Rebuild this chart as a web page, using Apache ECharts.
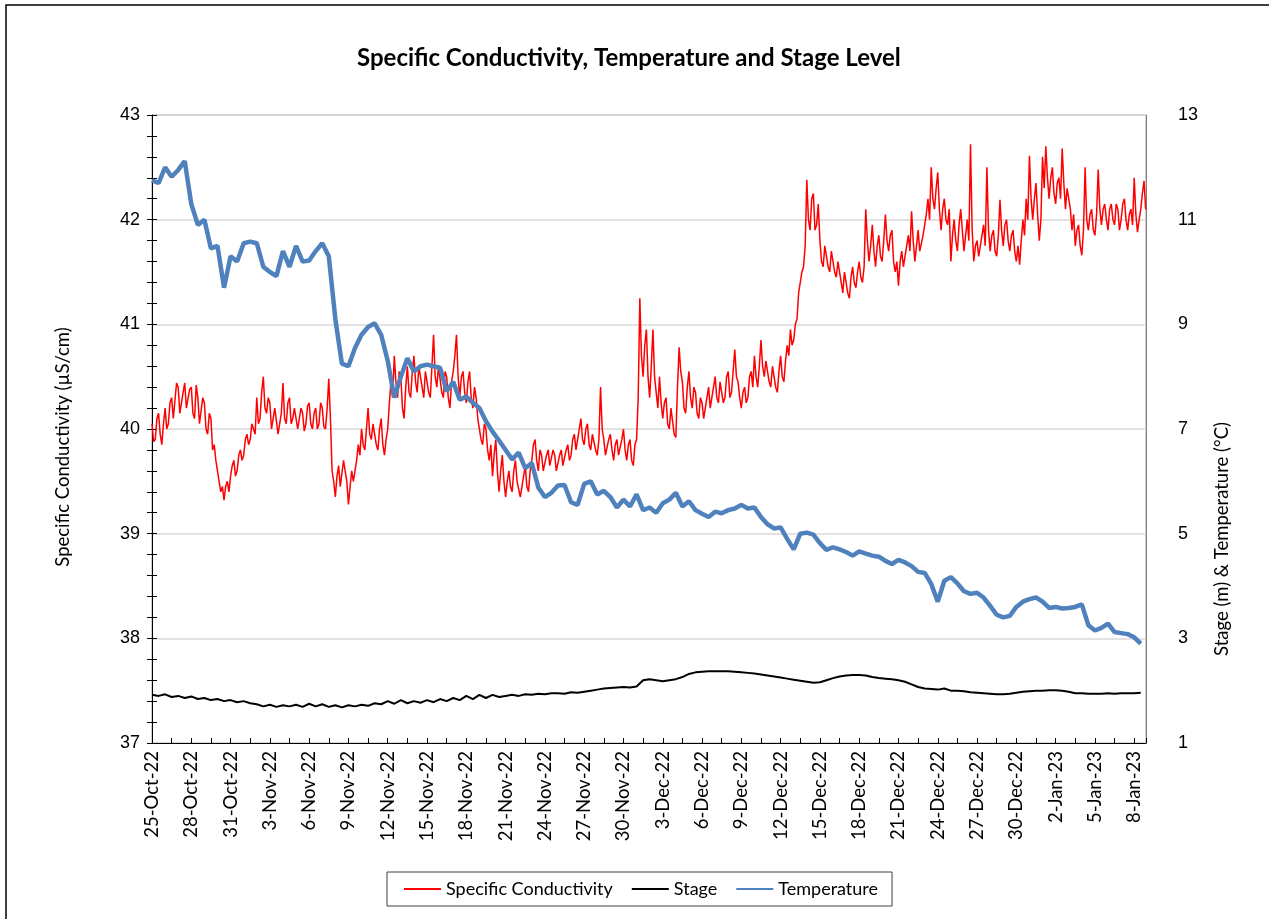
<!DOCTYPE html>
<html>
<head>
<meta charset="UTF-8">
<title>Specific Conductivity, Temperature and Stage Level</title>
<style>
  html, body { margin: 0; padding: 0; background: #fff; }
  #chart { width: 1269px; height: 919px; }
</style>
<script src="https://cdn.jsdelivr.net/npm/echarts@6/dist/echarts.min.js"></script>
</head>
<body>
<div id="chart"></div>
<script>
// days counted from 25-Oct-22 00:00
var startDate = Date.UTC(2022, 9, 25);
var months = ['Jan', 'Feb', 'Mar', 'Apr', 'May', 'Jun', 'Jul', 'Aug', 'Sep', 'Oct', 'Nov', 'Dec'];

// specific conductivity (uS/cm), 8 readings a day (one row = one day)
var condStep = 0.125;
var conductivity = [
  40.05, 39.88, 39.9, 40.1, 40.15, 39.95, 39.85, 40.05,
  40.2, 40.0, 40.05, 40.25, 40.3, 40.1, 40.1, 40.44,
  40.4, 40.15, 40.15, 40.35, 40.44, 40.2, 40.2, 40.38,
  40.4, 40.15, 40.1, 40.42, 40.3, 40.05, 40.05, 40.3,
  40.25, 40.0, 39.95, 40.15, 40.1, 39.8, 39.85, 39.7,
  39.6, 39.5, 39.4, 39.45, 39.32, 39.45, 39.5, 39.4,
  39.55, 39.65, 39.7, 39.55, 39.6, 39.75, 39.8, 39.7,
  39.75, 39.9, 39.95, 39.85, 39.9, 40.05, 40.05, 39.95,
  40.3, 40.05, 40.1, 40.35, 40.5, 40.2, 40.15, 40.3,
  40.25, 40.0, 40.0, 40.2, 40.2, 39.95, 39.95, 40.15,
  40.44, 40.1, 40.05, 40.25, 40.3, 40.05, 40.1, 40.2,
  40.2, 40.0, 40.0, 40.2, 40.15, 39.98, 40.05, 40.22,
  40.25, 40.05, 40.0, 40.15, 40.2, 40.0, 40.05, 40.25,
  40.2, 40.02, 40.0, 40.2, 40.48, 40.1, 39.6, 39.5,
  39.35, 39.55, 39.65, 39.45, 39.45, 39.7, 39.7, 39.5,
  39.28, 39.45, 39.6, 39.5, 39.5, 39.7, 39.85, 39.75,
  40.0, 39.85, 39.8, 40.0, 40.2, 39.95, 39.9, 40.05,
  40.05, 39.85, 39.8, 40.0, 40.1, 39.85, 39.75, 39.9,
  40.0, 40.25, 40.45, 40.3, 40.7, 40.45, 40.3, 40.55,
  40.5, 40.2, 40.1, 40.4, 40.6, 40.35, 40.3, 40.55,
  40.7, 40.45, 40.35, 40.6, 40.6, 40.4, 40.3, 40.55,
  40.55, 40.35, 40.3, 40.6, 40.9, 40.5, 40.4, 40.6,
  40.6, 40.35, 40.3, 40.55, 40.5, 40.3, 40.2, 40.45,
  40.55, 40.7, 40.9, 40.5, 40.3, 40.5, 40.55, 40.35,
  40.25, 40.45, 40.55, 40.3, 40.2, 40.4, 40.3, 40.1,
  40.1, 39.9, 39.85, 40.05, 40.0, 39.8, 39.7, 39.85,
  39.55, 39.75, 39.9, 39.6, 39.4, 39.6, 39.75, 39.5,
  39.35, 39.5, 39.6, 39.45, 39.4, 39.6, 39.7, 39.5,
  39.5, 39.35, 39.35, 39.55, 39.65, 39.45, 39.4, 39.6,
  39.7, 39.85, 39.9, 39.7, 39.6, 39.8, 39.75, 39.6,
  39.6, 39.75, 39.8, 39.65, 39.65, 39.8, 39.75, 39.6,
  39.6, 39.75, 39.8, 39.65, 39.65, 39.8, 39.85, 39.7,
  39.75, 39.9, 39.95, 39.8, 39.8, 40.0, 40.1, 39.9,
  39.85, 40.0, 40.05, 39.85, 39.8, 39.95, 39.95, 39.8,
  39.75, 39.9, 40.4, 40.0, 39.9, 39.75, 39.75, 39.9,
  39.95, 39.8, 39.7, 39.85, 39.9, 39.75, 39.75, 39.9,
  40.0, 39.8, 39.7, 39.85, 39.9, 39.7, 39.65, 39.85,
  39.9, 40.3, 41.25, 40.7, 40.5, 40.8, 40.95, 40.5,
  40.3, 40.6, 40.95, 40.5, 40.35, 40.2, 40.5, 40.25,
  40.1, 40.25, 40.3, 40.05, 40.0, 40.2, 40.2, 39.95,
  39.92, 40.4, 40.78, 40.55, 40.45, 40.2, 40.15, 40.4,
  40.55, 40.3, 40.2, 40.4, 40.35, 40.15, 40.1, 40.3,
  40.25, 40.1, 40.1, 40.3, 40.4, 40.2, 40.2, 40.4,
  40.5, 40.3, 40.25, 40.45, 40.45, 40.25, 40.3, 40.5,
  40.55, 40.3, 40.35, 40.55, 40.76, 40.5, 40.45, 40.3,
  40.2, 40.35, 40.4, 40.25, 40.3, 40.5, 40.55, 40.4,
  40.7, 40.5, 40.4, 40.6, 40.85, 40.6, 40.5, 40.65,
  40.65, 40.45, 40.4, 40.6, 40.6, 40.4, 40.35, 40.55,
  40.7, 40.5, 40.45, 40.65, 40.8, 40.7, 40.95, 40.8,
  40.85, 41.0, 41.05, 41.3, 41.3, 41.5, 41.55, 41.75,
  42.38, 42.0, 41.9, 42.2, 42.25, 41.9, 41.95, 42.15,
  41.8, 41.6, 41.55, 41.75, 41.75, 41.55, 41.5, 41.7,
  41.7, 41.5, 41.45, 41.6, 41.6, 41.4, 41.3, 41.5,
  41.5, 41.3, 41.25, 41.45, 41.55, 41.4, 41.35, 41.5,
  41.6, 41.45, 41.4, 41.55, 42.1, 41.8, 41.6, 41.75,
  41.95, 41.7, 41.55, 41.75, 41.85, 41.65, 41.6, 41.8,
  42.05, 41.8, 41.7, 41.85, 41.9, 41.6, 41.5, 41.6,
  41.37, 41.6, 41.7, 41.55, 41.55, 41.75, 41.85, 41.7,
  42.08, 41.8, 41.6, 41.75, 41.9, 41.7, 41.7, 41.85,
  41.85, 42.05, 42.2, 42.0, 42.5, 42.2, 42.1, 42.3,
  42.45, 42.1, 41.9, 42.1, 42.2, 42.0, 41.95, 42.1,
  41.6, 41.85, 42.0, 41.8, 41.7, 41.95, 42.1, 41.9,
  41.7, 41.85, 42.0, 41.8, 42.72, 41.9, 41.6, 41.75,
  41.8, 41.65, 41.65, 41.85, 41.95, 41.75, 42.5, 41.9,
  41.7, 41.85, 41.9, 41.7, 41.65, 41.85, 42.19, 41.9,
  41.75, 41.95, 42.0, 41.8, 41.7, 41.85, 41.9, 41.7,
  41.6, 41.75, 41.57, 41.8, 42.0, 41.85, 42.2, 42.0,
  42.61, 42.2, 42.0, 42.2, 42.35, 42.05, 41.8, 42.0,
  42.6, 42.3, 42.7, 42.4, 42.2, 42.4, 42.5, 42.25,
  42.15, 42.35, 42.4, 42.2, 42.68, 42.35, 42.1, 42.3,
  42.3, 42.1, 41.9, 42.05, 41.75, 41.9, 41.95, 41.75,
  41.66, 41.9, 42.5, 42.0, 41.9, 42.05, 42.1, 41.9,
  41.85, 42.05, 42.48, 42.1, 41.95, 42.1, 42.15, 42.0,
  41.9, 42.1, 42.15, 42.0, 41.95, 42.15, 42.1, 41.9,
  42.0, 42.15, 42.2, 42.0, 41.9, 42.05, 42.1, 41.95,
  42.4, 42.05, 41.88, 42.0, 42.1, 42.25, 42.37, 42.1
];

// stage (m) and temperature (°C), one value every 12 hours
var halfStep = 0.5;
var stage = [
  1.92, 1.9, 1.93, 1.88, 1.9, 1.86, 1.89, 1.84, 1.86, 1.82, 1.84, 1.8, 1.82, 1.78, 1.8, 1.76,
  1.74, 1.7, 1.73, 1.69, 1.72, 1.7, 1.73, 1.69, 1.75, 1.7, 1.74, 1.69, 1.72, 1.68, 1.72, 1.7,
  1.73, 1.71, 1.76, 1.74, 1.8, 1.75, 1.82, 1.76, 1.8, 1.77, 1.82, 1.78, 1.84, 1.8, 1.86, 1.82,
  1.9, 1.84, 1.92, 1.86, 1.92, 1.88, 1.9, 1.92, 1.9, 1.93, 1.92, 1.94, 1.93, 1.95, 1.95, 1.94,
  1.97, 1.96, 1.98, 2.0, 2.02, 2.04, 2.05, 2.06, 2.07, 2.06, 2.08, 2.2, 2.22, 2.2, 2.18, 2.2,
  2.22, 2.26, 2.32, 2.35, 2.36, 2.37, 2.37, 2.37, 2.37, 2.36, 2.35, 2.34, 2.33, 2.31, 2.29, 2.27,
  2.25, 2.23, 2.21, 2.19, 2.17, 2.15, 2.16, 2.2, 2.24, 2.27, 2.29, 2.3, 2.3, 2.29, 2.26, 2.24,
  2.23, 2.22, 2.2, 2.17, 2.12, 2.07, 2.04, 2.03, 2.02, 2.04, 2.0, 2.0, 1.99, 1.97, 1.96, 1.95,
  1.94, 1.93, 1.93, 1.94, 1.96, 1.98, 1.99, 2.0, 2.0, 2.01, 2.01, 2.0, 1.98, 1.95, 1.95, 1.94,
  1.94, 1.94, 1.95, 1.94, 1.95, 1.95, 1.95, 1.96
];
var temperature = [
  11.75, 11.7, 12.0, 11.82, 11.95, 12.12, 11.3, 10.9, 11.0, 10.45, 10.5, 9.7, 10.3, 10.2, 10.55, 10.58,
  10.55, 10.1, 10.0, 9.92, 10.4, 10.1, 10.5, 10.2, 10.22, 10.4, 10.55, 10.3, 9.1, 8.25, 8.2, 8.55,
  8.8, 8.95, 9.02, 8.8, 8.3, 7.6, 8.0, 8.35, 8.1, 8.2, 8.23, 8.2, 8.17, 7.72, 7.9, 7.56,
  7.62, 7.5, 7.4, 7.15, 6.95, 6.78, 6.6, 6.42, 6.55, 6.25, 6.35, 5.88, 5.7, 5.78, 5.92, 5.93,
  5.6, 5.55, 5.95, 6.0, 5.75, 5.82, 5.7, 5.5, 5.65, 5.52, 5.75, 5.45, 5.5, 5.4, 5.58, 5.65,
  5.78, 5.52, 5.62, 5.45, 5.38, 5.32, 5.42, 5.39, 5.45, 5.48, 5.55, 5.48, 5.5, 5.32, 5.18, 5.1,
  5.12, 4.9, 4.7, 5.0, 5.02, 4.98, 4.82, 4.69, 4.74, 4.7, 4.65, 4.58, 4.66, 4.62, 4.58, 4.56,
  4.48, 4.42, 4.5, 4.45, 4.38, 4.27, 4.25, 4.04, 3.7, 4.1, 4.17, 4.05, 3.9, 3.85, 3.87, 3.78,
  3.62, 3.45, 3.4, 3.43, 3.6, 3.7, 3.75, 3.78, 3.7, 3.58, 3.6, 3.57, 3.58, 3.6, 3.65, 3.25,
  3.15, 3.2, 3.28, 3.12, 3.1, 3.08, 3.02, 2.9
];

var leftTicks = [37, 43, 1];
var rightTicks = [1, 13, 2];

function toPairs(values, step) {
  return values.map(function (v, i) { return [i * step, v]; });
}

function dayLabel(v) {
  var d = new Date(startDate + Math.round(v) * 86400000);
  return d.getUTCDate() + '-' + months[d.getUTCMonth()] + '-' + String(d.getUTCFullYear()).slice(2);
}

var chart = echarts.init(document.getElementById('chart'));
var numFont = 'Liberation Sans';
var textFont = 'Lato';

var option = {
  backgroundColor: '#fff',
  animation: false,
  title: {
    text: 'Specific Conductivity, Temperature and Stage Level',
    left: 352,
    top: 41,
    textStyle: { fontFamily: textFont, fontSize: 24, fontWeight: 'bold', color: '#000' }
  },
  grid: {
    left: 152, right: 123, top: 115, bottom: 176,
    show: true, borderColor: '#a0a0a0', borderWidth: 1
  },
  legend: {
    left: 387, top: 872,
    padding: [8, 14, 8, 16],
    itemGap: 18,
    itemWidth: 37,
    itemHeight: 12,
    borderColor: '#404040',
    borderWidth: 1,
    itemStyle: { opacity: 0 },
    textStyle: { fontFamily: textFont, fontSize: 18, color: '#000' },
    data: ['Specific Conductivity', 'Stage', 'Temperature']
  },
  xAxis: {
    type: 'value',
    min: 0,
    max: 75.9,
    interval: 3,
    axisLine: { lineStyle: { color: '#000', width: 1 } },
    axisTick: { inside: true, length: 5, lineStyle: { color: '#000' } },
    minorTick: { show: true, splitNumber: 2, length: 5, lineStyle: { color: '#000' } },
    splitLine: { show: false },
    axisLabel: {
      rotate: 90, margin: 8, showMaxLabel: false,
      fontFamily: textFont, fontSize: 18.5, color: '#000',
      formatter: dayLabel
    }
  },
  yAxis: [{
    type: 'value',
    position: 'left',
    min: leftTicks[0], max: leftTicks[1], interval: leftTicks[2],
    axisLine: { show: true, lineStyle: { color: '#000' } },
    axisTick: { show: true, length: 5, lineStyle: { color: '#000' } },
    minorTick: { show: true, splitNumber: 5, length: 5, lineStyle: { color: '#000' } },
    splitLine: { show: true, lineStyle: { color: '#d9d9d9', width: 1.5 } },
    axisLabel: { margin: 12, fontFamily: numFont, fontSize: 18, color: '#000' }
  }, {
    type: 'value',
    position: 'right',
    min: rightTicks[0], max: rightTicks[1], interval: rightTicks[2],
    axisLine: { show: true, lineStyle: { color: '#808080' } },
    axisTick: { show: false },
    splitLine: { show: false },
    axisLabel: { margin: 32, fontFamily: numFont, fontSize: 18, color: '#000' }
  }, {
    type: 'value',
    position: 'left',
    min: leftTicks[0], max: leftTicks[1], interval: leftTicks[2],
    axisLine: { show: false },
    axisTick: { show: true, inside: true, length: 5, lineStyle: { color: '#000' } },
    minorTick: { show: true, splitNumber: 5, length: 5, lineStyle: { color: '#000' } },
    splitLine: { show: false },
    axisLabel: { show: false }
  }],
  graphic: [{
    type: 'rect',
    shape: { x: 6, y: 5, width: 1300, height: 950 },
    style: { fill: 'none', stroke: '#000', lineWidth: 1.5 },
    silent: true
  }, {
    type: 'text',
    x: 63, y: 447, rotation: Math.PI / 2,
    style: {
      text: 'Specific Conductivity (µS/cm)', align: 'center', verticalAlign: 'middle',
      font: '18.5px ' + textFont, fill: '#000'
    }
  }, {
    type: 'text',
    x: 1222, y: 539, rotation: Math.PI / 2,
    style: {
      text: 'Stage (m) & Temperature (°C)', align: 'center', verticalAlign: 'middle',
      font: '18.5px ' + textFont, fill: '#000'
    }
  }],
  series: [{
    name: 'Specific Conductivity',
    type: 'line',
    yAxisIndex: 0,
    symbol: 'none',
    color: '#ff0000',
    lineStyle: { width: 1.5, color: '#ff0000' },
    data: toPairs(conductivity, condStep)
  }, {
    name: 'Stage',
    type: 'line',
    yAxisIndex: 1,
    symbol: 'none',
    color: '#000',
    lineStyle: { width: 2, color: '#000' },
    data: toPairs(stage, halfStep)
  }, {
    name: 'Temperature',
    type: 'line',
    yAxisIndex: 1,
    symbol: 'none',
    color: '#4f81bd',
    lineStyle: { width: 4.5, color: '#4f81bd' },
    data: toPairs(temperature, halfStep)
  }]
};

chart.setOption(option);
</script>
</body>
</html>
